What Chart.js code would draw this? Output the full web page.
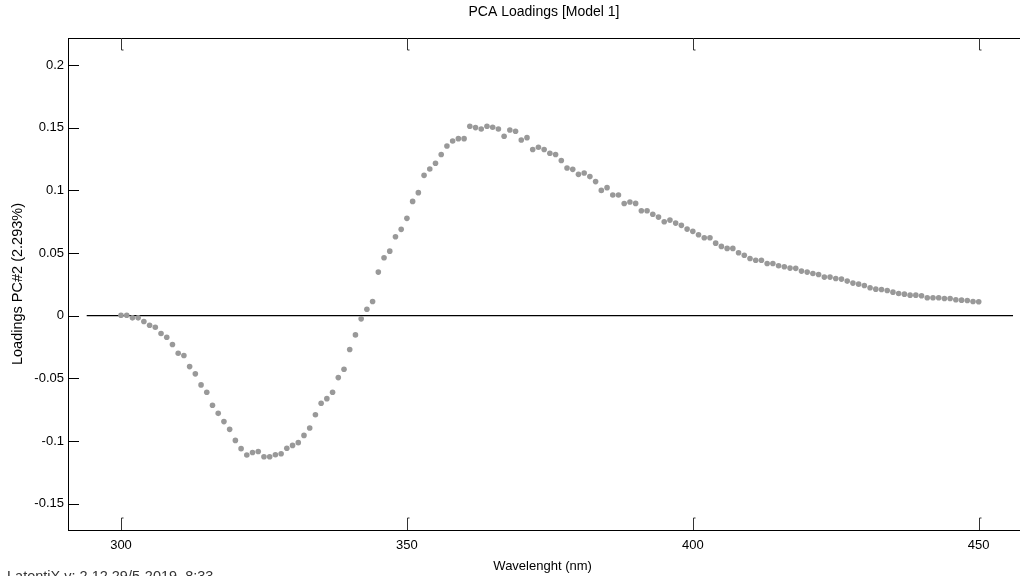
<!DOCTYPE html>
<html>
<head>
<meta charset="utf-8">
<script src="https://cdn.jsdelivr.net/npm/chart.js@4.4.1/dist/chart.umd.min.js"></script>
<style>
  html, body { margin: 0; padding: 0; background: #fff; }
</style>
</head>
<body>
<canvas id="chart" width="1020" height="576"></canvas>
<script>
// wavelength (nm) and PC#2 loadings
const wavelengths = [
  300, 301, 302, 303, 304, 305, 306, 307, 308, 309,
  310, 311, 312, 313, 314, 315, 316, 317, 318, 319,
  320, 321, 322, 323, 324, 325, 326, 327, 328, 329,
  330, 331, 332, 333, 334, 335, 336, 337, 338, 339,
  340, 341, 342, 343, 344, 345, 346, 347, 348, 349,
  350, 351, 352, 353, 354, 355, 356, 357, 358, 359,
  360, 361, 362, 363, 364, 365, 366, 367, 368, 369,
  370, 371, 372, 373, 374, 375, 376, 377, 378, 379,
  380, 381, 382, 383, 384, 385, 386, 387, 388, 389,
  390, 391, 392, 393, 394, 395, 396, 397, 398, 399,
  400, 401, 402, 403, 404, 405, 406, 407, 408, 409,
  410, 411, 412, 413, 414, 415, 416, 417, 418, 419,
  420, 421, 422, 423, 424, 425, 426, 427, 428, 429,
  430, 431, 432, 433, 434, 435, 436, 437, 438, 439,
  440, 441, 442, 443, 444, 445, 446, 447, 448, 449,
  450
];
const loadings = [
  0.0004, 0.0004, -0.0017, -0.0017, -0.0046, -0.0076, -0.0092, -0.0142, -0.0172, -0.0230,
  -0.0300, -0.0318, -0.0406, -0.0464, -0.0552, -0.0611, -0.0715, -0.0779, -0.0845, -0.0907,
  -0.0995, -0.1061, -0.1111, -0.1091, -0.1083, -0.1125, -0.1125, -0.1109, -0.1101, -0.1058,
  -0.1035, -0.1013, -0.0955, -0.0896, -0.0790, -0.0699, -0.0662, -0.0611, -0.0494, -0.0427,
  -0.0270, -0.0153, -0.0025, 0.0052, 0.0113, 0.0348, 0.0463, 0.0515, 0.0630, 0.0689,
  0.0777, 0.0912, 0.0982, 0.1120, 0.1171, 0.1216, 0.1286, 0.1354, 0.1394, 0.1413,
  0.1413, 0.1512, 0.1501, 0.1490, 0.1512, 0.1504, 0.1490, 0.1432, 0.1482, 0.1472,
  0.1402, 0.1421, 0.1326, 0.1344, 0.1326, 0.1296, 0.1286, 0.1238, 0.1179, 0.1168,
  0.1128, 0.1139, 0.1110, 0.1070, 0.1000, 0.1022, 0.0963, 0.0963, 0.0895, 0.0907,
  0.0896, 0.0838, 0.0838, 0.0809, 0.0787, 0.0750, 0.0763, 0.0739, 0.0721, 0.0691,
  0.0673, 0.0646, 0.0622, 0.0622, 0.0579, 0.0553, 0.0537, 0.0537, 0.0502, 0.0483,
  0.0457, 0.0443, 0.0443, 0.0417, 0.0417, 0.0399, 0.0391, 0.0380, 0.0378, 0.0356,
  0.0348, 0.0337, 0.0329, 0.0308, 0.0308, 0.0297, 0.0292, 0.0276, 0.0260, 0.0252,
  0.0241, 0.0223, 0.0212, 0.0209, 0.0201, 0.0188, 0.0177, 0.0172, 0.0164, 0.0164,
  0.0159, 0.0143, 0.0143, 0.0143, 0.0137, 0.0137, 0.0127, 0.0124, 0.0121, 0.0113,
  0.0111
];
const zeroLineX = [294, 456];

const xTickValues = [300, 350, 400, 450];
const yTickValues = [-0.15, -0.1, -0.05, 0, 0.05, 0.1, 0.15, 0.2];
const yTickLabels = ['-0.15', '-0.1', '-0.05', '0', '0.05', '0.1', '0.15', '0.2'];

const titleText = 'PCA Loadings [Model 1]';
const footerText = 'LatentiX v: 2.12 29/5-2019  8:33';
const FONT = "'Liberation Sans', Arial, sans-serif";

// top border, inward tick marks, title and footer
const framePlugin = {
  id: 'frame',
  afterDraw(chart) {
    const { ctx, chartArea: a, scales: { x, y } } = chart;
    ctx.save();
    ctx.strokeStyle = '#000';
    ctx.lineWidth = 1;

    // top frame line and bottom axis run on to the canvas edge
    ctx.beginPath();
    ctx.moveTo(a.left, a.top + 0.5);
    ctx.lineTo(chart.width, a.top + 0.5);
    ctx.moveTo(a.right - 1, Math.round(a.bottom) + 0.5);
    ctx.lineTo(chart.width, Math.round(a.bottom) + 0.5);
    ctx.stroke();

    yTickValues.forEach(v => {
      const py = Math.round(y.getPixelForValue(v)) + 0.5;
      ctx.beginPath();
      ctx.moveTo(a.left, py);
      ctx.lineTo(a.left + 11, py);
      ctx.stroke();
    });

    ctx.strokeStyle = '#333';
    xTickValues.forEach(v => {
      const px = Math.round(x.getPixelForValue(v)) + 0.5;
      ctx.beginPath();
      ctx.moveTo(px, a.bottom);
      ctx.lineTo(px, a.bottom - 12);
      ctx.lineTo(px + 2, a.bottom - 12);
      ctx.stroke();
      ctx.beginPath();
      ctx.moveTo(px, a.top);
      ctx.lineTo(px, a.top + 12);
      ctx.lineTo(px + 2, a.top + 12);
      ctx.stroke();
    });

    ctx.fillStyle = '#000';
    ctx.font = `14px ${FONT}`;
    ctx.textAlign = 'center';
    ctx.textBaseline = 'middle';
    ctx.fillText(titleText, (a.left + chart.width) / 2, 12);

    ctx.fillStyle = '#333';
    ctx.font = `14.5px ${FONT}`;
    ctx.textAlign = 'left';
    ctx.textBaseline = 'alphabetic';
    ctx.fillText(footerText, 7, 581);
    ctx.restore();
  }
};

new Chart(document.getElementById('chart'), {
  type: 'scatter',
  data: {
    datasets: [
      {
        data: wavelengths.map((w, i) => ({ x: w, y: loadings[i] })),
        backgroundColor: '#999',
        borderWidth: 0,
        pointRadius: 2.8,
        pointHoverRadius: 2.8
      },
      {
        data: zeroLineX.map(w => ({ x: w, y: 0 })),
        showLine: true,
        borderColor: '#000',
        borderWidth: 1.2,
        pointRadius: 0
      }
    ]
  },
  options: {
    responsive: false,
    animation: false,
    devicePixelRatio: 1,
    layout: { padding: { top: 38, left: 0, right: 0, bottom: 0 } },
    plugins: {
      legend: { display: false },
      tooltip: { enabled: false },
      title: { display: false }
    },
    scales: {
      x: {
        type: 'linear',
        min: 290.73,
        max: 456.73,
        afterBuildTicks: s => { s.ticks = xTickValues.map(v => ({ value: v })); },
        afterFit: s => { s.height = 46; },
        grid: { drawOnChartArea: false, drawTicks: false },
        border: { color: '#000', width: 1 },
        ticks: {
          color: '#000',
          font: { family: FONT, size: 13 },
          padding: 8,
          maxRotation: 0,
          autoSkip: false
        },
        title: {
          display: true,
          text: 'Wavelenght (nm)',
          color: '#000',
          font: { family: FONT, size: 13 },
          padding: { top: 0, bottom: 2 }
        }
      },
      y: {
        min: -0.171,
        max: 0.2216,
        afterBuildTicks: s => { s.ticks = yTickValues.map(v => ({ value: v })); },
        afterFit: s => { s.width = 68; },
        grid: { drawOnChartArea: false, drawTicks: false },
        border: { color: '#000', width: 1 },
        ticks: {
          color: '#000',
          font: { family: FONT, size: 13 },
          padding: 4,
          callback: (v, i) => yTickLabels[i]
        },
        title: {
          display: true,
          text: 'Loadings PC#2 (2.293%)',
          color: '#000',
          font: { family: FONT, size: 14.5 },
          padding: { top: 9, bottom: 0 }
        }
      }
    }
  },
  plugins: [framePlugin]
});
</script>
</body>
</html>
